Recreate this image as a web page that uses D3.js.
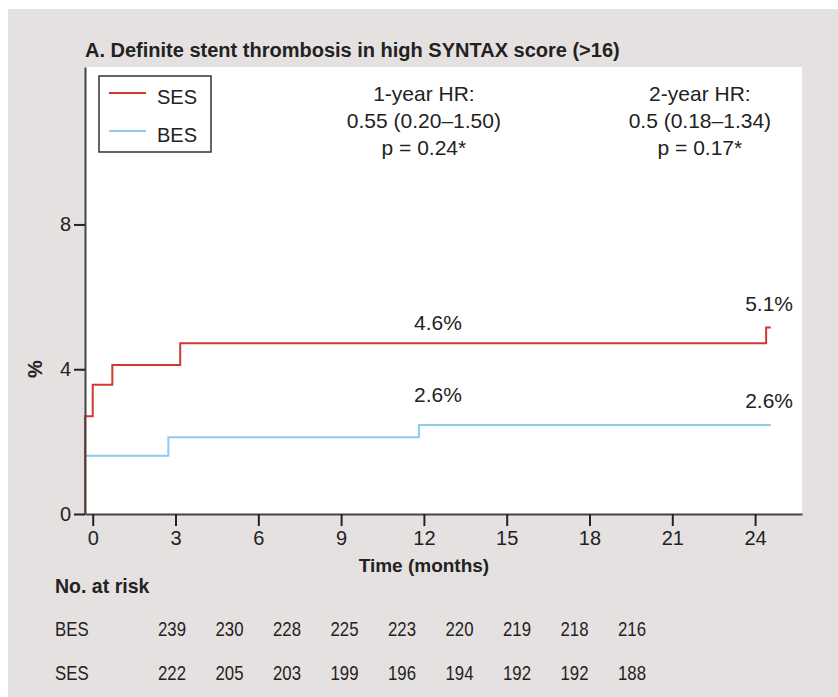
<!DOCTYPE html>
<html>
<head>
<meta charset="utf-8">
<script src="https://cdn.jsdelivr.net/npm/d3@7"></script>
<style>
  body { margin: 0; background: #fff; }
  svg text { font-family: "Liberation Sans", Arial, sans-serif; fill: #222; }
</style>
</head>
<body>
<div id="chart"></div>
<script>
// Kaplan-Meier steps (months, cumulative %)
var sesTime = [-0.28, -0.28, 0.0, 0.71, 3.17, 24.4, 24.57];
var sesPct  = [0, 2.70, 3.57, 4.12, 4.72, 5.15, 5.15];
var besTime = [-0.28, -0.28, 2.74, 11.82, 24.57];
var besPct  = [0, 1.61, 2.12, 2.46, 2.46];

var xTicks = [0, 3, 6, 9, 12, 15, 18, 21, 24];
var yTicks = [0, 4, 8];

var riskGroups = ['BES', 'SES'];
var besRisk = [239, 230, 228, 225, 223, 220, 219, 218, 216];
var sesRisk = [222, 205, 203, 199, 196, 194, 192, 192, 188];

var pctLabels = [
  { t: 12, v: 4.6, text: '4.6%' },
  { t: 12, v: 2.6, text: '2.6%' },
  { t: 24, v: 5.1, text: '5.1%' },
  { t: 24, v: 2.6, text: '2.6%' }
];
var hrText = [
  { t: 12, lines: ['1-year HR:', '0.55 (0.20\u20131.50)', 'p = 0.24*'] },
  { t: 22, lines: ['2-year HR:', '0.5 (0.18\u20131.34)', 'p = 0.17*'] }
];

var W = 838, H = 697;
var svg = d3.select('#chart').append('svg')
  .attr('width', W)
  .attr('height', H);

svg.append('rect')
  .attr('x', 8).attr('y', 9)
  .attr('width', W - 8).attr('height', H - 9)
  .attr('fill', '#e6e1e1');

var pLeft = 85, pRight = 802, pTop = 67, pBottom = 514;
var x = d3.scaleLinear().domain([-0.28, 25.7]).range([pLeft, pRight]);
var y = d3.scaleLinear().domain([0, 12.35]).range([pBottom, pTop]);

svg.append('rect')
  .attr('x', pLeft).attr('y', pTop)
  .attr('width', pRight - pLeft).attr('height', pBottom - pTop)
  .attr('fill', '#fff');

// title
svg.append('text')
  .attr('x', pLeft).attr('y', 57)
  .attr('font-size', 20).attr('font-weight', 'bold')
  .text('A. Definite stent thrombosis in high SYNTAX score (>16)');

// curves
var line = d3.line()
  .x(function(d) { return x(d[0]); })
  .y(function(d) { return y(d[1]); })
  .curve(d3.curveStepAfter);

svg.append('path')
  .datum(d3.zip(besTime, besPct))
  .attr('d', line)
  .attr('fill', 'none')
  .attr('stroke', '#8ccfec')
  .attr('stroke-width', 2);

svg.append('path')
  .datum(d3.zip(sesTime, sesPct))
  .attr('d', line)
  .attr('fill', 'none')
  .attr('stroke', '#cc3b2e')
  .attr('stroke-width', 2);

// axes
var xAxis = svg.append('g')
  .attr('transform', 'translate(0,' + pBottom + ')')
  .call(d3.axisBottom(x).tickValues(xTicks).tickSize(12).tickPadding(5).tickSizeOuter(0));
var yAxis = svg.append('g')
  .attr('transform', 'translate(' + pLeft + ',0)')
  .call(d3.axisLeft(y).tickValues(yTicks).tickSize(11).tickPadding(3).tickSizeOuter(0));

[xAxis, yAxis].forEach(function(a) {
  a.select('.domain').attr('stroke', '#444').attr('stroke-width', 2);
  a.selectAll('.tick line').attr('stroke', '#222').attr('stroke-width', 2);
  a.selectAll('.tick text').attr('font-size', 20).attr('fill', '#222')
    .attr('font-family', '"Liberation Sans", Arial, sans-serif');
});

svg.append('text')
  .attr('x', x(12)).attr('y', 572)
  .attr('text-anchor', 'middle')
  .attr('font-size', 19).attr('font-weight', 'bold')
  .text('Time (months)');

svg.append('text')
  .attr('transform', 'translate(42,' + y(4) + ') rotate(-90)')
  .attr('text-anchor', 'middle')
  .attr('font-size', 20).attr('font-weight', 'bold')
  .text('%');

// legend
svg.append('rect')
  .attr('x', 99).attr('y', 76)
  .attr('width', 112).attr('height', 76)
  .attr('fill', '#fff').attr('stroke', '#333').attr('stroke-width', 1.5);
var legend = svg.selectAll('.leg')
  .data([{ name: 'SES', color: '#cc3b2e' }, { name: 'BES', color: '#8ccfec' }])
  .enter().append('g')
  .attr('transform', function(d, i) { return 'translate(109,' + (93 + i * 38) + ')'; });
legend.append('line')
  .attr('x1', 0).attr('x2', 37)
  .attr('stroke', function(d) { return d.color; })
  .attr('stroke-width', 2);
legend.append('text')
  .attr('x', 48).attr('y', 11)
  .attr('font-size', 20)
  .text(function(d) { return d.name; });

// HR annotations
hrText.forEach(function(h) {
  svg.selectAll(null)
    .data(h.lines)
    .enter().append('text')
    .attr('x', x(h.t))
    .attr('y', function(d, i) { return 101 + i * 27; })
    .attr('text-anchor', 'middle')
    .attr('font-size', 21)
    .text(function(d) { return d; });
});

svg.selectAll('.pct')
  .data(pctLabels)
  .enter().append('text')
  .attr('x', function(d) { return x(d.t) + 14; })
  .attr('y', function(d) { return y(d.v) - (d.t === 24 && d.v < 3 ? 12 : 18); })
  .attr('text-anchor', 'middle')
  .attr('font-size', 21)
  .text(function(d) { return d.text; });

// number at risk table (condensed type, squeezed horizontally)
function narrow(sel, tx, ty, k) {
  sel.attr('transform', 'translate(' + tx + ',' + ty + ') scale(' + (k || 0.84) + ',1)');
}
svg.append('text')
  .attr('font-size', 21).attr('font-weight', 'bold')
  .call(narrow, 55, 593, 0.93)
  .text('No. at risk');

var col = d3.scalePoint().domain(d3.range(besRisk.length)).range([172, 632]);
[besRisk, sesRisk].forEach(function(row, r) {
  var yy = 636 + r * 44;
  svg.append('text')
    .attr('font-size', 20)
    .call(narrow, 55, yy)
    .text(riskGroups[r]);
  svg.selectAll(null)
    .data(row)
    .enter().append('text')
    .attr('text-anchor', 'middle')
    .attr('font-size', 20)
    .each(function(d, i) { d3.select(this).call(narrow, col(i), yy); })
    .text(function(d) { return d; });
});
</script>
</body>
</html>
